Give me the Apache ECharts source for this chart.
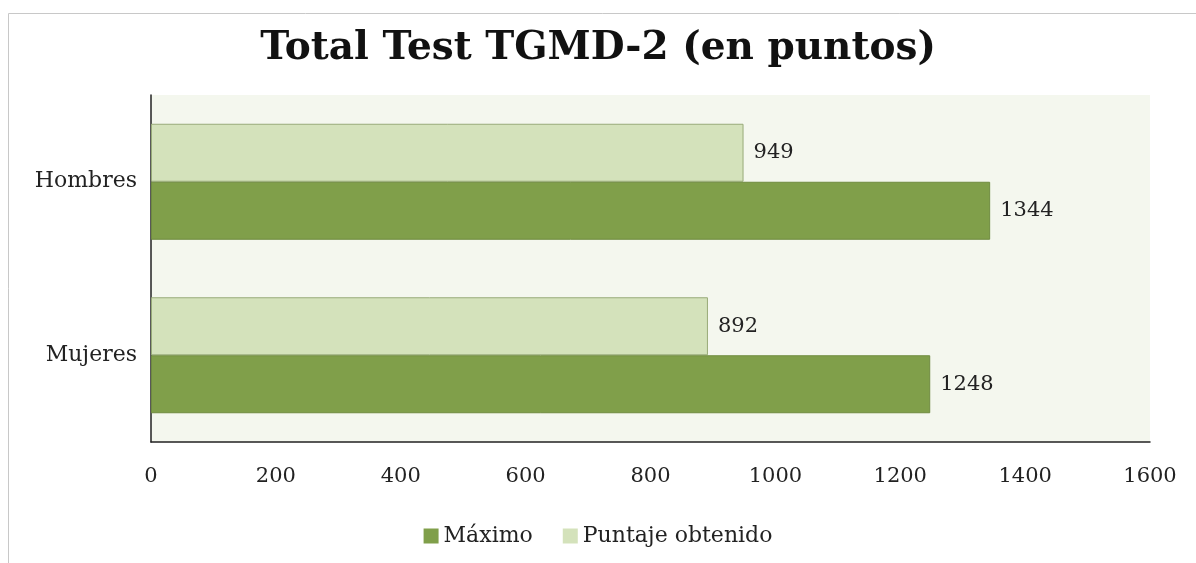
<!DOCTYPE html>
<html>
<head>
<meta charset="utf-8">
<script src="https://cdn.jsdelivr.net/npm/echarts@6/dist/echarts.min.js"></script>
<style>
    html, body { margin: 0; padding: 0; background: #fff; }
    #chart { width: 1196px; height: 563px; }
</style>
</head>
<body>
<div id="chart"></div>
<script>
    // categories, top to bottom in the picture
    var categories = ['Hombres', 'Mujeres'];
    var maximo = [1344, 1248];
    var puntaje = [949, 892];
    var xTicks = [0, 200, 400, 600, 800, 1000, 1200, 1400, 1600];

    var serif = '"DejaVu Serif", "Liberation Serif", serif';
    var chart = echarts.init(document.getElementById('chart'));

    var labelStyle = {
        show: true, position: 'right', distance: 10,
        fontFamily: serif, fontSize: 21, color: '#222'
    };

    var option = {
        backgroundColor: '#fff',
        title: {
            text: 'Total Test TGMD-2 (en puntos)',
            left: 'center',
            top: 24,
            textStyle: { fontFamily: serif, fontWeight: 'bold', fontSize: 39, color: '#111' }
        },
        graphic: [{
            type: 'polyline',
            shape: { points: [[8.5, 563], [8.5, 13.5], [1196, 13.5]] },
            style: { stroke: '#c8c8c8', lineWidth: 1, fill: null },
            silent: true
        }],
        legend: {
            top: 520,
            left: 'center',
            itemWidth: 15,
            itemHeight: 15,
            itemGap: 30,
            icon: 'rect',
            itemStyle: { borderWidth: 0 },
            textStyle: { fontFamily: serif, fontSize: 22, color: '#222' },
            data: ['Máximo', 'Puntaje obtenido']
        },
        grid: {
            left: 151,
            right: 46,
            top: 95,
            bottom: 121,
            show: true,
            backgroundColor: '#f4f7ee',
            borderWidth: 0
        },
        xAxis: {
            type: 'value',
            min: 0,
            max: 1600,
            interval: 200,
            axisLine: { show: true, lineStyle: { color: '#222', width: 1.5 } },
            axisTick: { show: false },
            splitLine: { show: false },
            axisLabel: {
                margin: 24,
                fontFamily: serif,
                fontSize: 21,
                color: '#222',
                customValues: xTicks,
                formatter: function (v) { return String(v); }
            }
        },
        yAxis: {
            type: 'category',
            data: categories,
            inverse: true,
            axisLine: { show: true, lineStyle: { color: '#222', width: 1.5 } },
            axisTick: { show: false },
            axisLabel: { margin: 14, fontFamily: serif, fontSize: 22, color: '#222' }
        },
        series: [
            {
                name: 'Puntaje obtenido',
                type: 'bar',
                data: puntaje,
                barWidth: 58,
                barGap: '0%',
                itemStyle: { color: '#d4e2bb', borderColor: '#98ab78', borderWidth: 1 },
                label: labelStyle,
                z: 2
            },
            {
                name: 'Máximo',
                type: 'bar',
                data: maximo,
                barWidth: 58,
                barGap: '0%',
                itemStyle: { color: '#809f4a', borderColor: '#6f8b3f', borderWidth: 1 },
                label: labelStyle,
                z: 2
            }
        ]
    };
    chart.setOption(option);
</script>
</body>
</html>
